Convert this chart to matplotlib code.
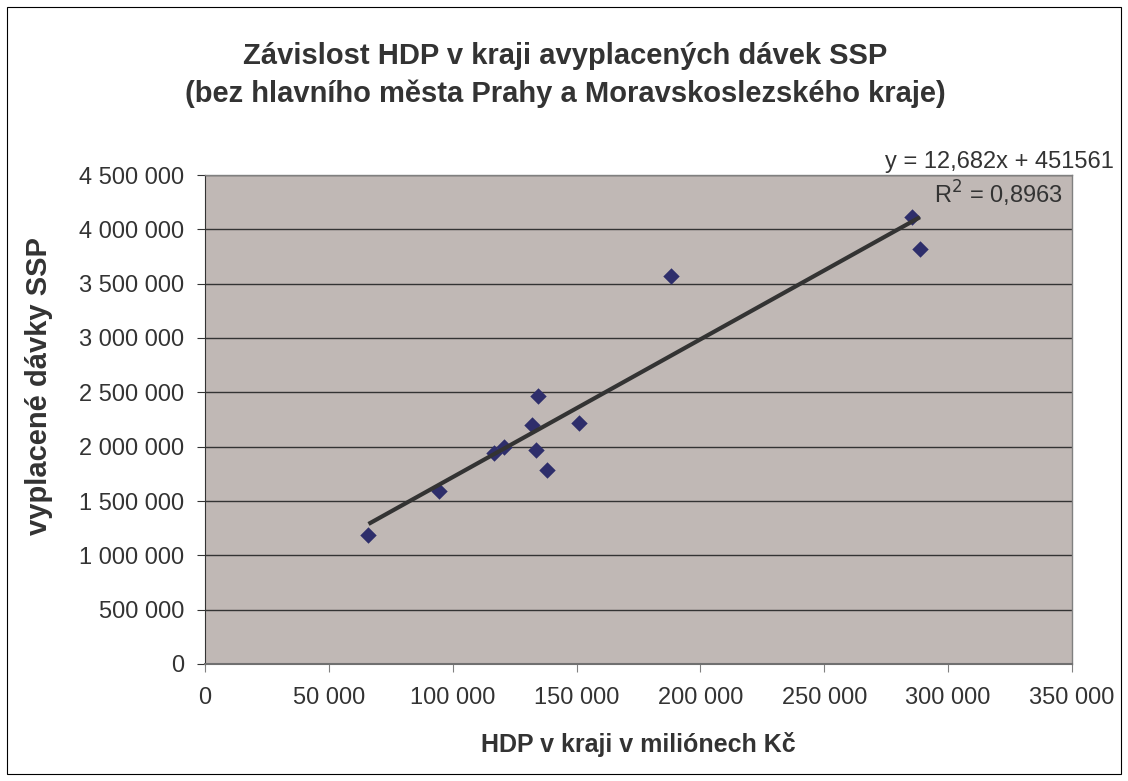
import matplotlib
matplotlib.use("Agg")
import matplotlib.pyplot as plt
from matplotlib.patches import Rectangle
from matplotlib.ticker import FuncFormatter, MultipleLocator
import numpy as np

plt.rcParams['font.family'] = ['Liberation Sans', 'DejaVu Sans']
TXT = '#333333'
plt.rcParams['text.color'] = TXT
plt.rcParams['xtick.labelcolor'] = TXT
plt.rcParams['ytick.labelcolor'] = TXT

# data (HDP in mil. Kč, vyplacené dávky SSP)
hdp = [66000, 94600, 116800, 120800, 131900, 134600, 133600, 137900, 150900, 188000, 285300, 288600]
ssp = [1190000, 1590000, 1946000, 2001000, 2201000, 2470000, 1971000, 1786000, 2216000, 3575000, 4110000, 3818000]
slope = 12.682
intercept = 451561
eq_text = "y = 12,682x + 451561"
r2_text = "R$^2$ = 0,8963"

W, H = 1128, 781
fig = plt.figure(figsize=(W / 100, H / 100), dpi=100)
fig.patch.set_facecolor('white')
fig.patches.append(Rectangle((7 / W, 7 / H), 1114 / W, 767 / H, transform=fig.transFigure,
                             fill=False, edgecolor='black', linewidth=0.8))

ax = fig.add_axes([205 / W, 117 / H, 867 / W, 489 / H])
ax.set_facecolor('#C0B8B5')
ax.set_xlim(0, 350000)
ax.set_ylim(0, 4500000)
ax.xaxis.set_major_locator(MultipleLocator(50000))
ax.yaxis.set_major_locator(MultipleLocator(500000))
fmt = FuncFormatter(lambda v, p: f"{int(round(v)):,}".replace(",", " "))
ax.xaxis.set_major_formatter(fmt)
ax.yaxis.set_major_formatter(fmt)
ax.grid(axis='y', color='#333333', linewidth=1.0)
ax.set_axisbelow(True)

for s in ['top', 'right']:
    ax.spines[s].set_color('#808080')
    ax.spines[s].set_linewidth(1.0)
ax.spines['left'].set_color('#333333')
ax.spines['bottom'].set_color('#707070')
ax.spines['bottom'].set_linewidth(1.5)

ax.tick_params(axis='y', direction='out', length=5.8, color='#333333', labelsize=17, pad=9.4)
ax.tick_params(axis='x', direction='out', length=5.8, color='#808080', labelsize=17, pad=10.4)

ax.scatter(hdp, ssp, marker='D', s=70, color='#2E2E6B', zorder=3, linewidths=0)

xs = np.array([min(hdp), max(hdp)])
ax.plot(xs, slope * xs + intercept, color='#333333', linewidth=3, zorder=4, solid_capstyle='butt')

fig.text(1114 / W, 1 - 168 / H, eq_text, ha='right', va='baseline', fontsize=17)
fig.text(1063 / W, 1 - 204 / H, r2_text, ha='right', va='baseline', fontsize=17)

fig.text(565 / W, 1 - 64 / H, "Závislost HDP v kraji avyplacených dávek SSP",
         ha='center', va='baseline', fontsize=21, fontweight='bold')
fig.text(565 / W, 1 - 102 / H, "(bez hlavního města Prahy a Moravskoslezského kraje)",
         ha='center', va='baseline', fontsize=21, fontweight='bold')

fig.text(638 / W, 1 - 752 / H, "HDP v kraji v miliónech Kč", ha='center', va='baseline',
         fontsize=18, fontweight='bold')
fig.text(39 / W, 1 - 386 / H, "vyplacené dávky SSP", ha='center', va='center', rotation=90,
         fontsize=21, fontweight='bold')

fig.savefig("out.png", dpi=100)
